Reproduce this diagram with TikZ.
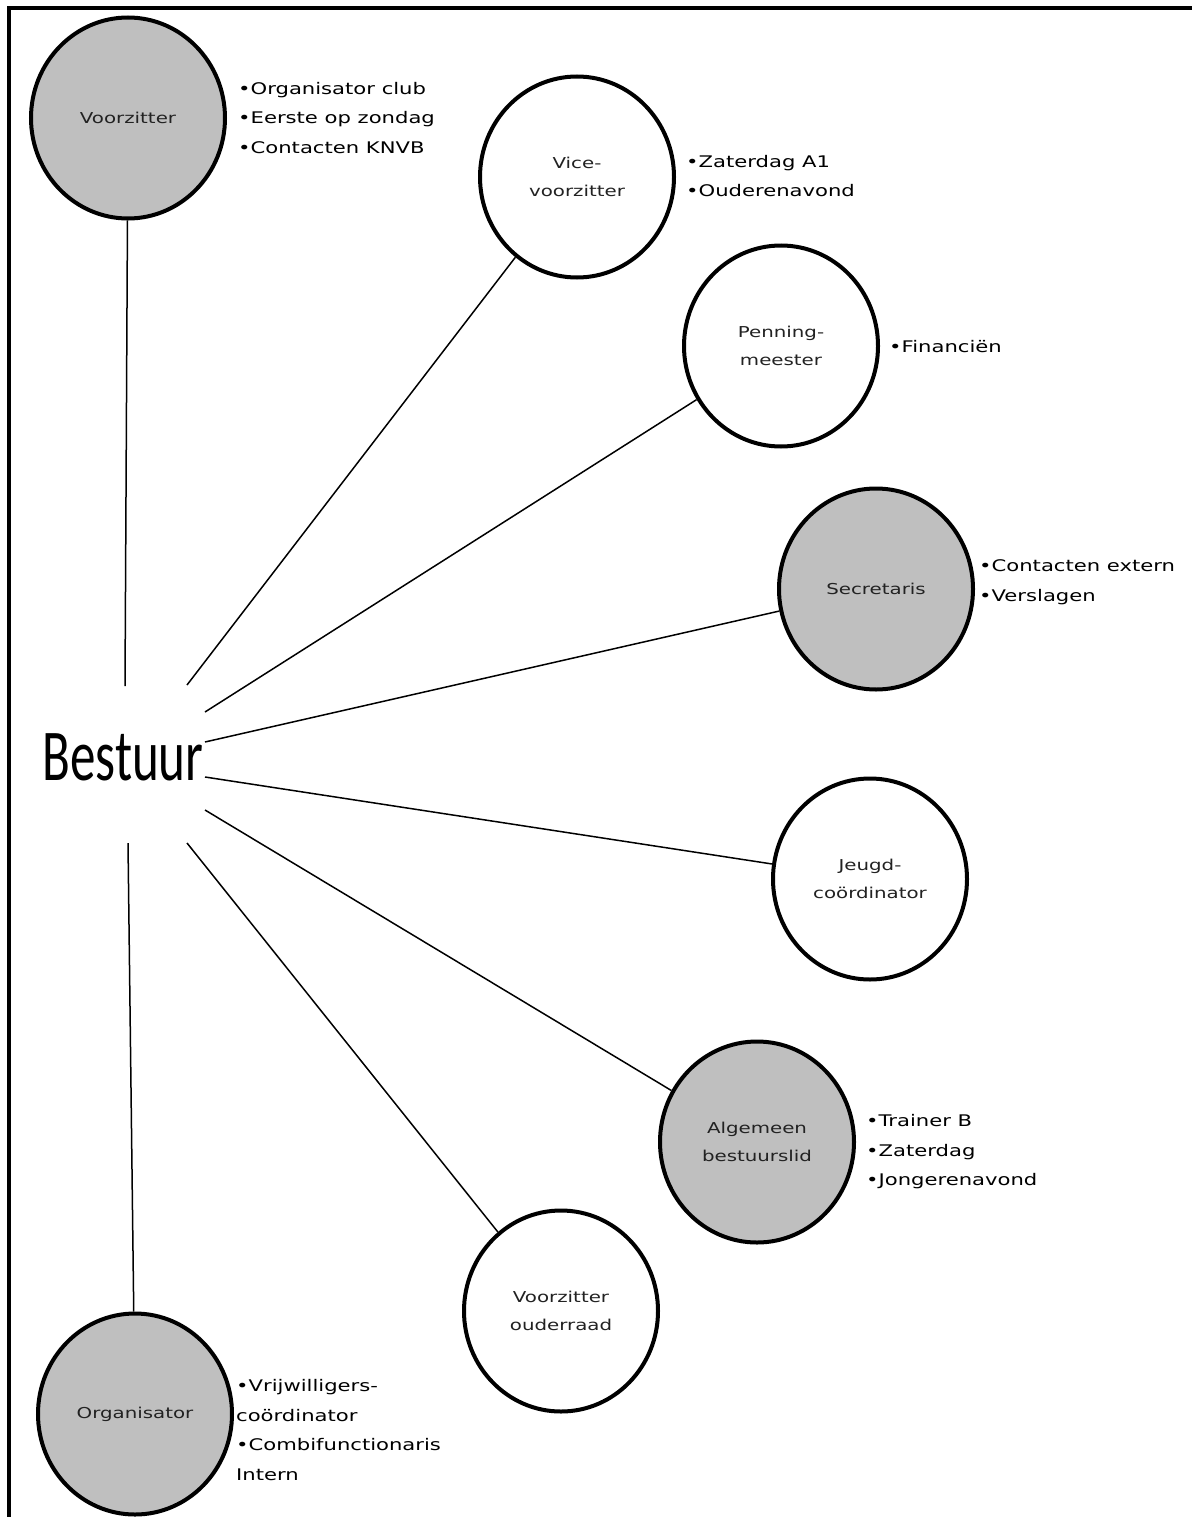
\documentclass[tikz,border=0pt]{standalone}
\usepackage{fontspec}
\usetikzlibrary{shapes.geometric}
\newfontfamily\rolefont[FakeStretch=1.32]{DejaVu Sans}
\newfontfamily\titlefont[FakeStretch=0.70]{Carlito}
\definecolor{rolegray}{RGB}{191,191,191}
\definecolor{inkgray}{RGB}{34,34,34}
\begin{document}
\begin{tikzpicture}[x=1pt,y=-1pt,
  role/.style={ellipse, draw=black, line width=4pt, minimum width=194pt,
    minimum height=201pt, inner sep=0pt, align=center, text=inkgray,
    font=\rolefont\fontsize{15}{28}\selectfont},
  grayrole/.style={role, fill=rolegray},
  whiterole/.style={role, fill=white},
  duties/.style={anchor=west, inner sep=0pt, align=left, text=black,
    font=\rolefont\fontsize{16}{29.5}\selectfont},
  link/.style={line width=1.5pt, draw=black}
]
\useasboundingbox (0,0) rectangle (1192,1517);
\fill[white] (0,0) rectangle (1192,1517);

% page frame (top and left edges)
\draw[line width=4pt] (9,1517) -- (9,8) -- (1192,8);

% board title
\node[inner sep=0pt, anchor=base, font=\titlefont\fontsize{73}{80}\selectfont]
  (bestuur) at (123,780) {Bestuur};

% board members
\node[grayrole]  (vz)   at (128,118)  {Voorzitter};
\node[whiterole] (vice) at (577,177)  {Vice-\\voorzitter};
\node[whiterole] (penn) at (781,346)  {Penning-\\meester};
\node[grayrole]  (secr) at (876,589)  {Secretaris};
\node[whiterole] (jeugd) at (870,879) {Jeugd-\\coördinator};
\node[grayrole]  (alg)  at (757,1142) {Algemeen\\bestuurslid};
\node[whiterole] (oud)  at (561,1311) {Voorzitter\\ouderraad};
\node[grayrole]  (org)  at (135,1414) {Organisator};

% duties per member
\node[duties] (vzd)   at (238,118)  {•Organisator  club\\•Eerste op zondag\\•Contacten KNVB};
\node[duties] (viced) at (686,176)  {•Zaterdag A1\\•Ouderenavond};
\node[duties] (pennd) at (889,347)  {•Financiën};
\node[duties] (secrd) at (979,582)  {•Contacten extern\\•Verslagen};
\node[duties] (algd)  at (866,1152) {•Trainer B\\•Zaterdag\\•Jongerenavond};
\node[duties] (orgd)  at (236,1430) {•Vrijwilligers-\\coördinator\\•Combifunctionaris\\Intern};

% spokes around the title
\coordinate (s-vz)    at (125,686);
\coordinate (s-vice)  at (187,685);
\coordinate (s-penn)  at (205,712);
\coordinate (s-secr)  at (205,742);
\coordinate (s-jeugd) at (205,777);
\coordinate (s-alg)   at (205,810);
\coordinate (s-oud)   at (187,843);
\coordinate (s-org)   at (128,843);

\draw[link] (s-vz)    -- (vz);
\draw[link] (s-vice)  -- (vice);
\draw[link] (s-penn)  -- (penn);
\draw[link] (s-secr)  -- (secr);
\draw[link] (s-jeugd) -- (jeugd);
\draw[link] (s-alg)   -- (alg);
\draw[link] (s-oud)   -- (oud);
\draw[link] (s-org)   -- (org);
\end{tikzpicture}
\end{document}
